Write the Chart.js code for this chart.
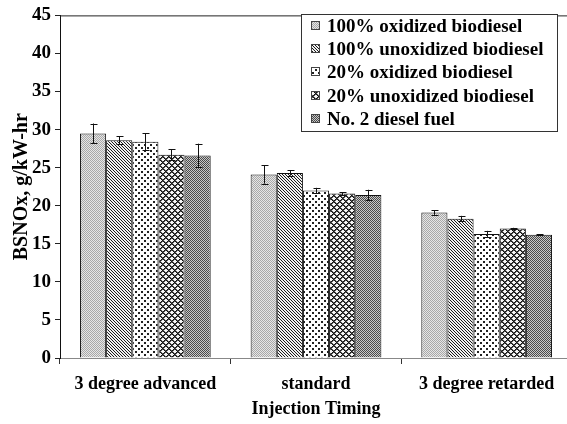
<!DOCTYPE html>
<html>
<head>
<meta charset="utf-8">
<script src="https://cdn.jsdelivr.net/npm/chart.js@4/dist/chart.umd.min.js"></script>
<style>
  html, body { margin: 0; padding: 0; background: #fff; }
  #wrap { width: 567px; height: 424px; overflow: hidden; position: relative; }
  #c { position: absolute; left: 0; top: 0; }
</style>
</head>
<body>
<div id="wrap"><canvas id="c" width="575" height="424" style="width:575px;height:424px"></canvas></div>
<script>
// Injection timing groups
const categories = ['3 degree advanced', 'standard', '3 degree retarded'];
const seriesNames = [
  '100% oxidized biodiesel',
  '100% unoxidized biodiesel',
  '20% oxidized biodiesel',
  '20% unoxidized biodiesel',
  'No. 2 diesel fuel'
];
// BSNOx, g/kW-hr
const ox100   = [29.5, 24.1, 19.1];
const unox100 = [28.6, 24.3, 18.3];
const ox20    = [28.4, 22.0, 16.3];
const unox20  = [26.7, 21.6, 17.0];
const diesel  = [26.6, 21.4, 16.2];
// +/- error bar half-heights
const ox100Err   = [1.3, 1.2, 0.3];
const unox100Err = [0.5, 0.35, 0.37];
const ox20Err    = [1.1, 0.35, 0.4];
const unox20Err  = [0.7, 0.2, 0.1];
const dieselErr  = [1.55, 0.7, 0.05];
const yTicks = [0, 5, 10, 15, 20, 25, 30, 35, 40, 45];

const FONT = "'Liberation Serif', 'Times New Roman', serif";

// Build a small tiled fill from a pixel function
function makePattern(size, fn) {
  const t = document.createElement('canvas');
  t.width = size; t.height = size;
  const g = t.getContext('2d');
  for (let y = 0; y < size; y++) {
    for (let x = 0; x < size; x++) {
      g.fillStyle = fn(x, y);
      g.fillRect(x, y, 1, 1);
    }
  }
  return g.createPattern(t, 'repeat');
}
const ctx = document.getElementById('c').getContext('2d');
const fills = [
  // light grey stipple
  makePattern(4, (x, y) => ((x + y) % 2 === 0) ? '#a8a8a8' : '#e6e6e6'),
  // dense diagonal hatch
  makePattern(6, (x, y) => (((x - y) % 3 + 3) % 3 === 0) ? '#1a1a1a' : '#f0f0f0'),
  // sparse dots on white
  makePattern(6, (x, y) => {
    const a = (x < 2 && y < 2);
    const b = (x >= 3 && x < 5 && y >= 3 && y < 5);
    return (a || b) ? '#222' : '#ffffff';
  }),
  // diamond crosshatch with open cells
  makePattern(6, (x, y) => {
    const d1 = ((x + y) % 6 + 6) % 6, d2 = ((x - y) % 6 + 6) % 6;
    return (d1 === 0 || d2 === 0) ? '#111' : ((d1 === 3 && d2 === 3) ? '#ffffff' : (d1 === 1 || d2 === 1 ? '#555' : '#f2f2f2'));
  }),
  // fine dark mesh
  makePattern(4, (x, y) => {
    const zig = [0, 1, 2, 1][x];
    return ((y % 2) === (zig % 2)) ? '#4a4a4a' : '#c8c8c8';
  })
];

const values = [ox100, unox100, ox20, unox20, diesel];
const errs = [ox100Err, unox100Err, ox20Err, unox20Err, dieselErr];

const datasets = seriesNames.map((name, i) => ({
  label: name,
  data: values[i],
  errors: errs[i],
  backgroundColor: fills[i],
  borderColor: '#111',
  borderWidth: 1,
  borderSkipped: 'bottom',
  barPercentage: 1.0,
  categoryPercentage: 0.766
}));

// Error bars drawn from each dataset's error array
const errorBars = {
  id: 'errorBars',
  afterDatasetsDraw(chart) {
    const c = chart.ctx;
    const ys = chart.scales.y;
    c.save();
    c.strokeStyle = '#111';
    c.lineWidth = 1;
    chart.data.datasets.forEach((ds, di) => {
      const meta = chart.getDatasetMeta(di);
      meta.data.forEach((bar, k) => {
        const v = ds.data[k], e = ds.errors[k];
        const x = Math.round(bar.x) + 0.5;
        const yHi = ys.getPixelForValue(v + e);
        const yLo = ys.getPixelForValue(v - e);
        c.beginPath();
        c.moveTo(x, yHi); c.lineTo(x, yLo);
        c.moveTo(x - 3, Math.round(yHi) + 0.5); c.lineTo(x + 4, Math.round(yHi) + 0.5);
        c.moveTo(x - 3, Math.round(yLo) + 0.5); c.lineTo(x + 4, Math.round(yLo) + 0.5);
        c.stroke();
      });
    });
    c.restore();
  }
};

// Frame top line and legend box
const frameLegend = {
  id: 'frameLegend',
  afterDraw(chart) {
    const c = chart.ctx;
    const a = chart.chartArea;
    c.save();
    c.strokeStyle = '#222';
    c.lineWidth = 1;
    c.beginPath();
    c.moveTo(a.left, a.top + 0.5); c.lineTo(a.right, a.top + 0.5);
    c.lineTo(a.right + 0.5, a.bottom);
    c.stroke();

    const bx = 301.5, by = 14.5, bw = 256, bh = 117;
    c.fillStyle = '#fff';
    c.fillRect(bx, by, bw, bh);
    c.strokeStyle = '#333';
    c.strokeRect(bx, by, bw, bh);
    c.font = "bold 19px " + FONT;
    c.textBaseline = 'middle';
    c.textAlign = 'left';
    chart.data.datasets.forEach((ds, i) => {
      const cy = 26 + i * 23.2;
      c.fillStyle = ds.backgroundColor;
      c.fillRect(311, Math.round(cy) - 5, 9, 9);
      c.strokeStyle = '#444';
      c.strokeRect(311.5, Math.round(cy) - 4.5, 8, 8);
      c.fillStyle = '#000';
      c.fillText(ds.label, 327, cy + 1);
    });
    c.restore();
  }
};

new Chart(ctx, {
  type: 'bar',
  data: { labels: categories, datasets },
  options: {
    responsive: false,
    animation: false,
    events: [],
    layout: { padding: { top: 12, right: 3, left: 0, bottom: 0 } },
    plugins: { legend: { display: false }, tooltip: { enabled: false } },
    scales: {
      x: {
        offset: true,
        grid: { offset: true, drawOnChartArea: false, tickLength: 6, color: '#333' },
        border: { color: '#888', width: 1 },
        ticks: { color: '#000', padding: 10, font: { family: FONT, size: 18, weight: 'bold' }, maxRotation: 0 },
        title: { display: true, text: 'Injection Timing', color: '#000', padding: { top: 0, bottom: 4 },
                 font: { family: FONT, size: 18, weight: 'bold' } },
        afterFit(s) { s.height = 66; }
      },
      y: {
        min: 0, max: 45,
        afterBuildTicks(s) { s.ticks = yTicks.map(v => ({ value: v })); },
        grid: { drawOnChartArea: false, tickLength: 5, color: '#222' },
        border: { color: '#111', width: 1 },
        ticks: { color: '#000', padding: 4, font: { family: FONT, size: 19, weight: 'bold' } },
        title: { display: true, text: 'BSNOx, g/kW-hr', color: '#000', padding: { top: 10, bottom: 0 },
                 font: { family: FONT, size: 20, weight: 'bold' } },
        afterFit(s) { s.width = 60; }
      }
    }
  },
  plugins: [errorBars, frameLegend]
});
</script>
</body>
</html>
